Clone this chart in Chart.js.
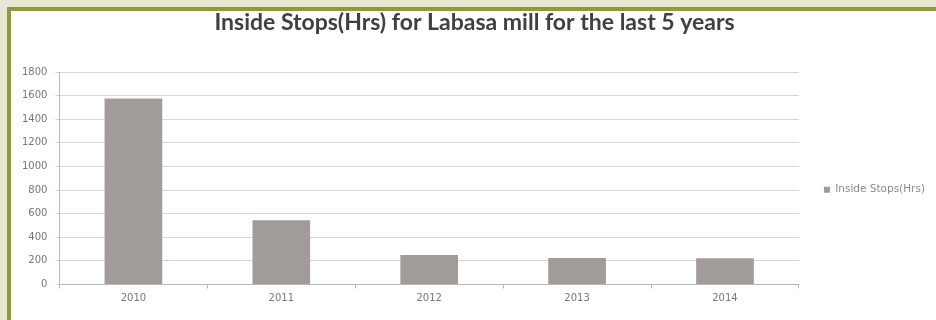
<!DOCTYPE html>
<html>
<head>
<meta charset="utf-8">
<script src="https://cdn.jsdelivr.net/npm/chart.js@4.4.0/dist/chart.umd.min.js"></script>
<style>
  html, body { margin: 0; padding: 0; }
  body { width: 936px; height: 320px; background: #e8e6d5; overflow: hidden; position: relative; }
  .frame {
    position: absolute; left: 7px; top: 7px; right: 0; bottom: 0;
    background: #fff;
    border-top: 4px solid #8f9a3c;
    border-left: 4px solid #8f9a3c;
  }
  #stopsChart { display: block; }
</style>
</head>
<body>
<div class="frame">
  <canvas id="stopsChart" width="925" height="309"></canvas>
</div>
<script>
// Labasa mill inside stops, hours per season
const years = ['2010', '2011', '2012', '2013', '2014'];
const insideStopHours = [1575, 545, 250, 225, 222];
const hourTicks = [0, 200, 400, 600, 800, 1000, 1200, 1400, 1600, 1800];

// nudge the side legend down a little so it sits beside the middle of the plot
const legendShift = {
  id: 'legendShift',
  afterUpdate(chart) {
    const lg = chart.legend;
    if (lg) {
      lg.top += 30;
      lg.bottom += 30;
    }
  }
};

const ctx = document.getElementById('stopsChart').getContext('2d');
const stopsChart = new Chart(ctx, {
  type: 'bar',
  data: {
    labels: years,
    datasets: [
      {
        label: 'Inside Stops(Hrs)',
        data: insideStopHours,
        backgroundColor: '#a19c99',
        borderWidth: 0,
        barPercentage: 0.78,
        categoryPercentage: 0.5
      }
    ]
  },
  options: {
    responsive: false,
    animation: false,
    layout: {
      padding: { left: 3, right: 1, top: 0, bottom: 11.5 }
    },
    scales: {
      x: {
        grid: {
          display: true,
          drawOnChartArea: false,
          drawTicks: true,
          tickLength: 4,
          color: '#b8b8b8'
        },
        border: { color: '#b8b8b8' },
        ticks: {
          padding: 4,
          color: '#777',
          font: { family: 'DejaVu Sans', size: 10 }
        }
      },
      y: {
        min: 0,
        max: 1800,
        afterBuildTicks: axis => {
          axis.ticks = hourTicks.map(v => ({ value: v }));
        },
        grid: {
          color: '#d6d6d6',
          tickLength: 4
        },
        border: { color: '#b8b8b8' },
        ticks: {
          padding: 8,
          color: '#777',
          font: { family: 'DejaVu Sans', size: 10 },
          callback: value => String(value)
        }
      }
    },
    plugins: {
      title: {
        display: true,
        text: 'Inside Stops(Hrs) for Labasa mill for the last 5 years',
        color: '#404040',
        font: { family: 'Lato', size: 23, weight: '700', lineHeight: 1 },
        padding: { top: 0, bottom: 38 }
      },
      legend: {
        display: true,
        position: 'right',
        labels: {
          boxWidth: 6,
          boxHeight: 6,
          padding: 25,
          color: '#8a8a8a',
          font: { family: 'DejaVu Sans', size: 10.5 }
        }
      },
      tooltip: { enabled: false }
    }
  },
  plugins: [legendShift]
});
</script>
</body>
</html>
